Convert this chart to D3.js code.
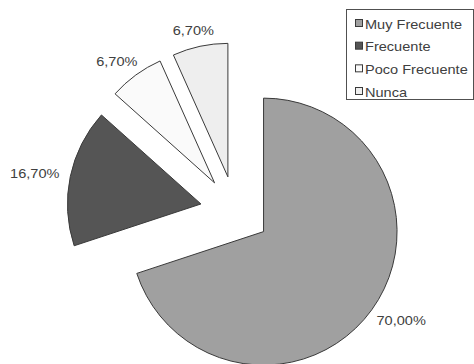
<!DOCTYPE html>
<html>
<head>
<meta charset="utf-8">
<script src="https://cdn.jsdelivr.net/npm/d3@7"></script>
<style>
  html, body { margin: 0; padding: 0; background: #fff; }
  svg { display: block; }
  text { font-family: "Liberation Sans", Arial, sans-serif; fill: #404040; }
</style>
</head>
<body>
<script>
// Frequency categories and their shares (percent)
const categories = ["Muy Frecuente", "Frecuente", "Poco Frecuente", "Nunca"];
const values = [70.0, 16.7, 6.7, 6.7];
const valueLabels = ["70,00%", "16,70%", "6,70%", "6,70%"];
const colors = ["#a0a0a0", "#555555", "#fafafa", "#eeeeee"];

const W = 474, H = 364;
const cx = 235.2, cy = 211.1;     // pie centre
const radius = 133.5;
const explode = 35;               // every slice pulled out from the centre
const labelGap = 12;
const fontSize = 13, stretch = 1.12;

const svg = d3.select("body").append("svg")
  .attr("width", W).attr("height", H);

const pie = d3.pie().sort(null).value(d => d)(values);
const arc = d3.arc().innerRadius(0).outerRadius(radius);

const g = svg.append("g").attr("transform", `translate(${cx},${cy})`);

pie.forEach((p, i) => {
  const mid = (p.startAngle + p.endAngle) / 2;
  const dx = Math.sin(mid), dy = -Math.cos(mid);
  const ox = dx * explode, oy = dy * explode;

  g.append("path")
    .attr("d", arc(p))
    .attr("transform", `translate(${ox},${oy})`)
    .attr("fill", colors[i])
    .attr("stroke", "#3a3a3a")
    .attr("stroke-width", 1);

  // Label placed just outside the slice's outer edge
  const w = valueLabels[i].length * fontSize * 0.556 * stretch;
  const h = fontSize * 0.8;
  const px = ox + dx * (radius + labelGap) + dx * w / 2;
  const py = oy + dy * (radius + labelGap) + dy * h / 2;
  g.append("text")
    .attr("transform", `translate(${px},${py + h / 2}) scale(${stretch},1)`)
    .attr("text-anchor", "middle")
    .style("font-size", fontSize + "px")
    .text(valueLabels[i]);
});

// Legend
const lg = svg.append("g").attr("transform", "translate(346,9)");
lg.append("rect")
  .attr("x", 0.5).attr("y", 0.5)
  .attr("width", 127).attr("height", 90)
  .attr("fill", "#fff").attr("stroke", "#505050").attr("stroke-width", 1);

const rowY = d3.scalePoint().domain(categories).range([15, 83]);
categories.forEach((c, i) => {
  const y = rowY(c);
  lg.append("rect")
    .attr("x", 9.5).attr("y", y - 4.5)
    .attr("width", 7).attr("height", 7)
    .attr("fill", colors[i]).attr("stroke", "#3a3a3a").attr("stroke-width", 1);
  lg.append("text")
    .attr("transform", `translate(19,${y + 4.5}) scale(${stretch},1)`)
    .style("font-size", fontSize + "px")
    .text(c);
});
</script>
</body>
</html>
